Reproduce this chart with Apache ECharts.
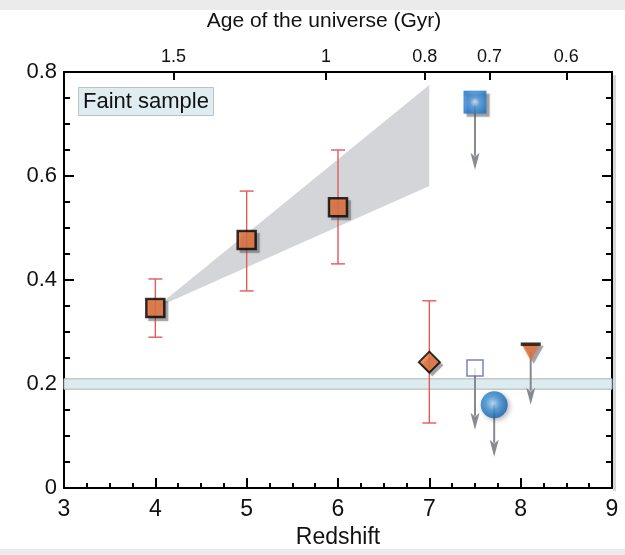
<!DOCTYPE html>
<html>
<head>
<meta charset="utf-8">
<script src="https://cdn.jsdelivr.net/npm/echarts@6/dist/echarts.min.js"></script>
<style>
  html, body { margin: 0; padding: 0; background: #fff; }
  #chart { width: 625px; height: 555px; }
</style>
</head>
<body>
<div id="chart"></div>
<script>
// Faint-sample fraction versus redshift
const redshiftBins = [4, 5, 6];
const faintFraction = [0.346, 0.477, 0.540];
const faintLow = [0.290, 0.379, 0.431];
const faintHigh = [0.402, 0.571, 0.650];

// single measurement at z ~ 7 with its error bar
const diamondPoint = [7.0, 0.242];
const diamondLow = 0.125;
const diamondHigh = 0.360;

// upper limits: [redshift, value, arrow tip]
const openSquareLimit = [7.50, 0.231, 0.112];
const blueCircleLimit = [7.71, 0.160, 0.060];
const triangleLimit = [8.11, 0.262, 0.160];
const blueSquareLimit = [7.50, 0.742, 0.612];

// model wedge (redshift, fraction)
const wedgeZ = [4.0, 7.0, 7.0];
const wedgeF = [0.346, 0.775, 0.581];

// local reference band
const bandLow = 0.190;
const bandHigh = 0.210;

// upper axis: age of the universe
const ageLabels = ['1.5', '1', '0.8', '0.7', '0.6'];
const ageRedshift = [4.20, 5.87, 6.95, 7.66, 8.50];

const ORANGE = '#e6723a';
const ARROW = '#878a90';
const DROP = 'rgba(90,90,95,0.55)';
const FONT = '"Liberation Sans", Arial, Helvetica, sans-serif';
const TRIANGLE = 'path://M0,0 L20,0 L10,18 Z';

const chart = echarts.init(document.getElementById('chart'), null, { renderer: 'canvas' });

function arrowItem(params, api) {
  const x = api.value(0);
  const start = api.coord([x, api.value(1)]);
  const tip = api.coord([x, api.value(2)]);
  const headLen = 17, headW = 4.5;
  return {
    type: 'group',
    children: [
      {
        type: 'line',
        shape: { x1: start[0], y1: start[1], x2: tip[0], y2: tip[1] - headLen + 3 },
        style: { stroke: ARROW, lineWidth: 2 }
      },
      {
        type: 'polygon',
        shape: {
          points: [
            [tip[0], tip[1]],
            [tip[0] - headW, tip[1] - headLen],
            [tip[0], tip[1] - headLen + 4],
            [tip[0] + headW, tip[1] - headLen]
          ]
        },
        style: { fill: ARROW }
      }
    ]
  };
}

function errorItem(params, api) {
  const x = api.value(0);
  const lo = api.coord([x, api.value(1)]);
  const hi = api.coord([x, api.value(2)]);
  const cap = 7;
  const st = { stroke: '#e25a5a', lineWidth: 1.4 };
  return {
    type: 'group',
    children: [
      { type: 'line', shape: { x1: lo[0], y1: lo[1], x2: hi[0], y2: hi[1] }, style: st },
      { type: 'line', shape: { x1: lo[0] - cap, y1: lo[1], x2: lo[0] + cap, y2: lo[1] }, style: st },
      { type: 'line', shape: { x1: hi[0] - cap, y1: hi[1], x2: hi[0] + cap, y2: hi[1] }, style: st }
    ]
  };
}

const errorData = redshiftBins.map((z, i) => [z, faintLow[i], faintHigh[i]]);
errorData.push([diamondPoint[0], diamondLow, diamondHigh]);

const limits = [openSquareLimit, blueCircleLimit, triangleLimit, blueSquareLimit];
const squarePoints = redshiftBins.map((z, i) => [z, faintFraction[i]]);
const trianglePoint = [[triangleLimit[0], triangleLimit[1]]];

// soft drop shadow drawn as its own layer beneath a marker
function dropShadow(symbol, size, data) {
  return {
    type: 'scatter',
    z: 4,
    silent: true,
    symbol: symbol,
    symbolSize: size,
    symbolOffset: [3, 3],
    data: data,
    itemStyle: { color: DROP, shadowBlur: 2, shadowColor: DROP }
  };
}

const option = {
  backgroundColor: '#ffffff',
  animation: false,
  grid: { left: 64, right: 13, top: 72, bottom: 67, containLabel: false },
  title: {
    text: 'Faint sample',
    left: 78,
    top: 87,
    padding: [4, 5, 3, 5],
    backgroundColor: '#dfedf0',
    borderColor: '#b8c3c6',
    borderWidth: 1,
    textStyle: { fontFamily: FONT, fontSize: 22, fontWeight: 'normal', color: '#111' }
  },
  xAxis: [
    {
      type: 'value', min: 3, max: 9, interval: 1, position: 'bottom',
      axisLine: { show: true, onZero: false, lineStyle: { color: '#000', width: 2 } },
      axisTick: { show: true, inside: true, length: 10, lineStyle: { color: '#000', width: 2 } },
      minorTick: { show: true, splitNumber: 4, length: 5, lineStyle: { color: '#000', width: 2 } },
      splitLine: { show: false },
      axisLabel: { fontFamily: FONT, fontSize: 23, color: '#111', margin: 10 }
    },
    {
      type: 'value', min: 3, max: 9, position: 'top',
      axisLine: { show: true, onZero: false, lineStyle: { color: '#000', width: 2 } },
      axisTick: { show: true, inside: true, length: 8, customValues: ageRedshift, lineStyle: { color: '#000', width: 2 } },
      splitLine: { show: false },
      axisLabel: {
        fontFamily: FONT, fontSize: 18, color: '#111', margin: 6,
        customValues: ageRedshift,
        formatter: function (v) {
          const i = ageRedshift.indexOf(v);
          return i >= 0 ? ageLabels[i] : '';
        }
      }
    }
  ],
  yAxis: [
    {
      type: 'value', min: 0, max: 0.8, interval: 0.2, position: 'left',
      axisLine: { show: true, onZero: false, lineStyle: { color: '#000', width: 2 } },
      axisTick: { show: true, inside: true, length: 10, lineStyle: { color: '#000', width: 2 } },
      minorTick: { show: true, splitNumber: 4, length: 6, lineStyle: { color: '#000', width: 2 } },
      splitLine: { show: false },
      axisLabel: {
        fontFamily: FONT, fontSize: 22, color: '#111', margin: 7,
        formatter: v => (v === 0 ? '0' : v.toFixed(1))
      }
    },
    {
      type: 'value', min: 0, max: 0.8, interval: 0.2, position: 'right',
      axisLine: { show: true, onZero: false, lineStyle: { color: '#000', width: 2 } },
      axisTick: { show: true, inside: true, length: 10, lineStyle: { color: '#000', width: 2 } },
      minorTick: { show: true, splitNumber: 4, length: 6, lineStyle: { color: '#000', width: 2 } },
      splitLine: { show: false },
      axisLabel: { show: false }
    }
  ],
  graphic: [
    { type: 'rect', left: 0, top: 0, shape: { width: 625, height: 10 }, style: { fill: '#ebebeb' }, z: 0 },
    { type: 'rect', left: 0, top: 549, shape: { width: 625, height: 6 }, style: { fill: '#ebebeb' }, z: 0 },
    { type: 'rect', left: 613, top: 75, shape: { width: 3, height: 416 }, style: { fill: '#d6d6d8' }, z: 0 },
    {
      type: 'text', x: 324, y: 21,
      style: {
        text: 'Age of the universe (Gyr)', fontFamily: FONT, fontSize: 21, fill: '#111',
        align: 'center', verticalAlign: 'middle'
      }
    },
    {
      type: 'text', x: 338, y: 538,
      style: {
        text: 'Redshift', fontFamily: FONT, fontSize: 23, fill: '#111',
        align: 'center', verticalAlign: 'middle'
      }
    }
  ],
  series: [
    {
      // model wedge
      type: 'custom',
      z: 1,
      silent: true,
      data: [[wedgeZ[0], wedgeF[0]]],
      renderItem: function (params, api) {
        const pts = wedgeZ.map((z, i) => api.coord([z, wedgeF[i]]));
        return { type: 'polygon', shape: { points: pts }, style: { fill: '#d3d5d9' } };
      }
    },
    {
      // local reference band
      type: 'line',
      data: [],
      z: 1,
      markArea: {
        silent: true,
        itemStyle: { color: '#dcebee', borderColor: '#aeb6b9', borderWidth: 1 },
        data: [[{ yAxis: bandLow }, { yAxis: bandHigh }]]
      }
    },
    {
      type: 'custom',
      z: 2,
      silent: true,
      data: errorData,
      renderItem: errorItem
    },
    {
      type: 'custom',
      z: 2,
      silent: true,
      data: limits,
      renderItem: arrowItem
    },
    dropShadow('rect', 20, squarePoints),
    dropShadow('diamond', 22, [diamondPoint]),
    dropShadow(TRIANGLE, [20, 18], trianglePoint),
    dropShadow('rect', 23, [[blueSquareLimit[0], blueSquareLimit[1]]]),
    {
      type: 'scatter',
      z: 5,
      symbol: 'rect',
      symbolSize: 18,
      data: squarePoints,
      itemStyle: { color: ORANGE, borderColor: '#000', borderWidth: 2.5 }
    },
    {
      type: 'scatter',
      z: 5,
      symbol: 'diamond',
      symbolSize: 21,
      data: [diamondPoint],
      itemStyle: { color: ORANGE, borderColor: '#000', borderWidth: 2 }
    },
    {
      type: 'scatter',
      z: 5,
      symbol: 'rect',
      symbolSize: 16,
      data: [[openSquareLimit[0], openSquareLimit[1]]],
      itemStyle: { color: '#fff', borderColor: '#5961b0', borderWidth: 1.5 }
    },
    {
      type: 'scatter',
      z: 5,
      symbol: 'circle',
      symbolSize: 27,
      data: [[blueCircleLimit[0], blueCircleLimit[1]]],
      itemStyle: {
        color: {
          type: 'radial', x: 0.45, y: 0.45, r: 0.6,
          colorStops: [
            { offset: 0, color: '#b9dbf5' },
            { offset: 0.45, color: '#3f92da' },
            { offset: 1, color: '#0b5aa6' }
          ]
        },
        shadowBlur: 5,
        shadowColor: 'rgba(0,0,0,0.35)',
        shadowOffsetX: 2,
        shadowOffsetY: 2
      }
    },
    {
      // downward triangle
      type: 'scatter',
      z: 5,
      symbol: TRIANGLE,
      symbolSize: [20, 18],
      data: trianglePoint,
      itemStyle: { color: ORANGE }
    },
    {
      // its dark top edge
      type: 'scatter',
      z: 6,
      symbol: 'rect',
      symbolSize: [20, 3.5],
      symbolOffset: [0, -7.5],
      data: trianglePoint,
      itemStyle: { color: '#111' }
    },
    {
      type: 'scatter',
      z: 5,
      symbol: 'rect',
      symbolSize: 23,
      data: [[blueSquareLimit[0], blueSquareLimit[1]]],
      itemStyle: {
        color: {
          type: 'radial', x: 0.5, y: 0.5, r: 0.6,
          colorStops: [
            { offset: 0, color: '#dcebf9' },
            { offset: 0.35, color: '#4f9be0' },
            { offset: 1, color: '#146ec4' }
          ]
        }
      }
    }
  ]
};

chart.setOption(option);
</script>
</body>
</html>
